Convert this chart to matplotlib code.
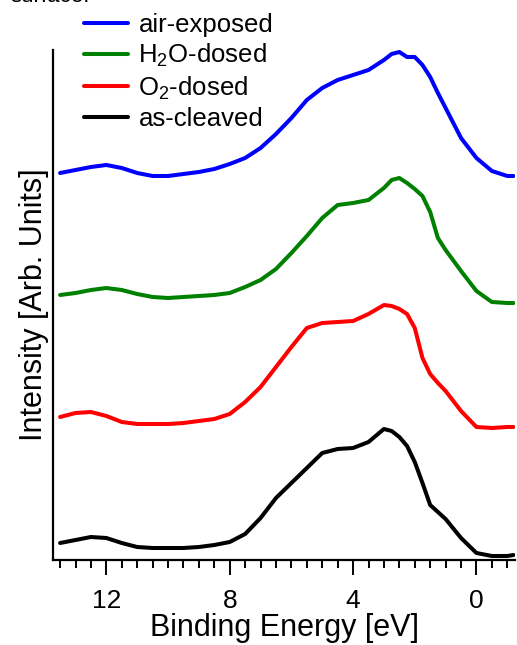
import matplotlib
matplotlib.use("Agg")
import matplotlib.pyplot as plt
from matplotlib.ticker import MultipleLocator, NullLocator
import numpy as np

plt.rcParams['font.family'] = ['Liberation Sans', 'DejaVu Sans']
plt.rcParams['mathtext.default'] = 'regular'

# Binding energy grid (eV)
energy = [13.5, 13.0, 12.5, 12.0, 11.5, 11.0, 10.5, 10.0, 9.5, 9.0, 8.5, 8.0,
          7.5, 7.0, 6.5, 6.0, 5.5, 5.0, 4.5, 4.0, 3.5, 3.0, 2.75, 2.5, 2.25,
          2.0, 1.75, 1.5, 1.25, 1.0, 0.5, 0.0, -0.5, -1.0, -1.2]

as_cleaved = [0.17, 0.20, 0.23, 0.22, 0.17, 0.13, 0.12, 0.12, 0.12, 0.13, 0.15, 0.18,
              0.26, 0.42, 0.62, 0.77, 0.92, 1.07, 1.11, 1.12, 1.18, 1.31, 1.29, 1.23, 1.14,
              0.98, 0.77, 0.55, 0.48, 0.41, 0.22, 0.07, 0.04, 0.04, 0.05]
o2_dosed = [0.23, 0.27, 0.28, 0.24, 0.18, 0.16, 0.16, 0.16, 0.17, 0.19, 0.21, 0.26,
            0.38, 0.53, 0.73, 0.93, 1.12, 1.17, 1.18, 1.19, 1.26, 1.35, 1.34, 1.31, 1.26,
            1.12, 0.82, 0.66, 0.57, 0.49, 0.29, 0.13, 0.12, 0.13, 0.13]
h2o_dosed = [0.20, 0.22, 0.25, 0.27, 0.25, 0.21, 0.18, 0.17, 0.18, 0.19, 0.20, 0.22,
             0.28, 0.35, 0.46, 0.62, 0.79, 0.97, 1.10, 1.12, 1.15, 1.27, 1.35, 1.37, 1.32,
             1.26, 1.19, 1.03, 0.77, 0.65, 0.44, 0.24, 0.13, 0.12, 0.12]
air_exposed = [0.15, 0.18, 0.21, 0.23, 0.20, 0.15, 0.12, 0.12, 0.14, 0.16, 0.19, 0.24,
               0.30, 0.40, 0.54, 0.70, 0.88, 1.00, 1.08, 1.13, 1.18, 1.28, 1.34, 1.36, 1.31,
               1.31, 1.23, 1.11, 0.95, 0.80, 0.50, 0.30, 0.17, 0.12, 0.12]

series = [as_cleaved, o2_dosed, h2o_dosed, air_exposed]
labels = ['as-cleaved', 'O$_2$-dosed', 'H$_2$O-dosed', 'air-exposed']
colors = ['#000000', '#ff0000', '#008000', '#0000ff']
offsets = [0.0, 1.2, 2.45, 3.72]

fig = plt.figure(figsize=(5.17, 6.45), dpi=100)
ax = fig.add_axes([53/517, 85/645, 462/517, 510/645])

handles = []
for vals, lab, col, off in zip(series, labels, colors, offsets):
    h, = ax.plot(energy, np.array(vals) + off, color=col, lw=2.9, label=lab,
                 solid_joinstyle='round', solid_capstyle='round')
    handles.append(h)

ax.set_xlim(13.73, -1.25)
ax.set_ylim(0, 5.1)
ax.xaxis.set_major_locator(MultipleLocator(4))
ax.xaxis.set_minor_locator(MultipleLocator(0.5))
ax.yaxis.set_major_locator(NullLocator())
ax.tick_params(axis='x', which='major', length=11, width=1.4, direction='out',
               labelsize=19, pad=10)
ax.tick_params(axis='x', which='minor', length=6, width=1.4, direction='out')
for s in ['top', 'right']:
    ax.spines[s].set_visible(False)
for s in ['left', 'bottom']:
    ax.spines[s].set_linewidth(1.6)

ax.set_xlabel('Binding Energy [eV]', fontsize=22, labelpad=0)
ax.set_ylabel('Intensity [Arb. Units]', fontsize=22, labelpad=3)

fig.legend(handles[::-1], labels[::-1], loc='upper left',
           bbox_to_anchor=(84/517, 1 - 13/645), frameon=False, fontsize=18.5,
           handlelength=1.7, handletextpad=0.42, labelspacing=0.2,
           borderaxespad=0, borderpad=0)

fig.text(10/517, 1.0 + 4/645, 'surface.', fontsize=16, va='center', ha='left')

fig.savefig('out.png', dpi=100)
